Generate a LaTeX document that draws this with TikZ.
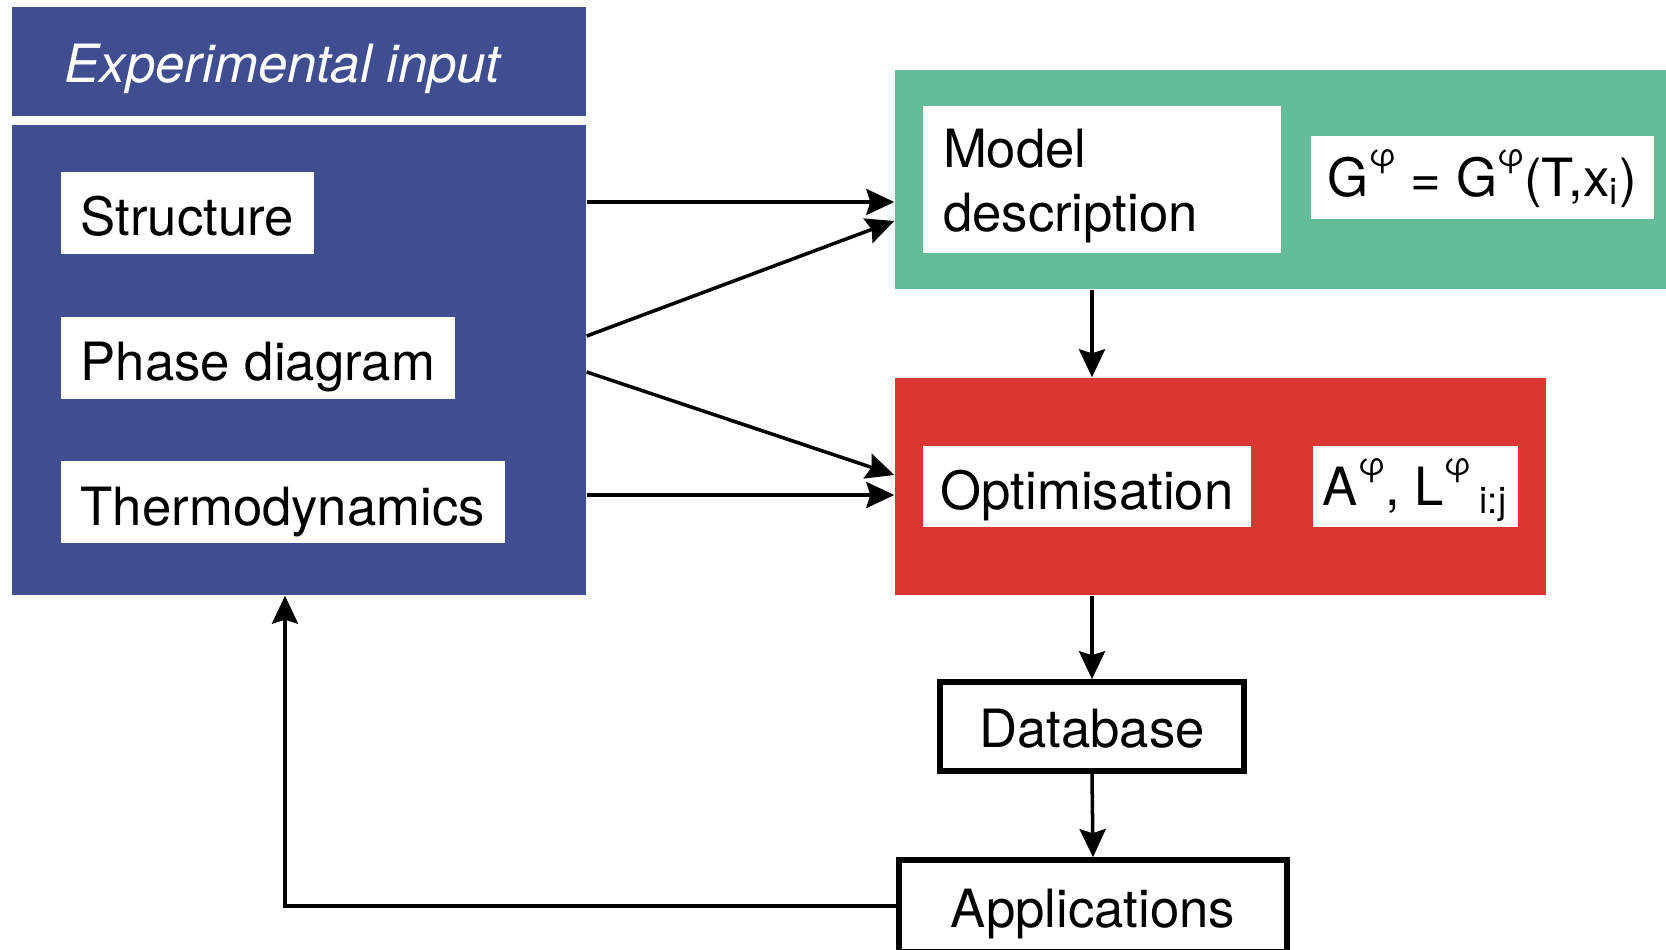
\documentclass[tikz,border=0pt]{standalone}
\usepackage{fontspec}
\setmainfont{TeX Gyre Heros}
\usepackage{xcolor}
\usepackage{tikz}
\usetikzlibrary{arrows.meta}

\definecolor{inputblue}{RGB}{64,78,145}
\definecolor{modelgreen}{RGB}{100,189,153}
\definecolor{optred}{RGB}{218,54,50}

\newcommand{\supphi}{\raisebox{8.5pt}{\fontsize{9}{10}\selectfont φ}}

\begin{document}
\begin{tikzpicture}[
	font=\fontsize{15}{18}\selectfont,
	panel/.style={rectangle, inner sep=0pt},
	tag/.style={rectangle, fill=white, inner xsep=0.2cm, inner ysep=0pt, minimum height=0.82cm, text height=0.46cm, text depth=0cm},
	stage/.style={rectangle, draw=black, line width=1.6pt, fill=white, inner sep=0pt, text height=0.42cm, text depth=0cm},
	arr/.style={-{Stealth[length=0.28cm, width=0.26cm, inset=0.04cm]}, line width=1pt}
]

\useasboundingbox (0,0) rectangle (16.66,9.49);

% experimental input
\node[panel, fill=inputblue, minimum width=5.74cm, minimum height=1.09cm] (title) at (2.99,8.875) {};

\node[anchor=west, inner sep=0pt, text=white, font=\fontsize{15}{18}\selectfont\itshape] (titletext) at (0.64,8.80) {Experimental input};

\node[panel, fill=inputblue, minimum width=5.74cm, minimum height=4.70cm] (input) at (2.99,5.89) {};

\node[tag, anchor=west] (structure) at (0.60,7.36) {Structure};

\node[tag, anchor=west] (phase) at (0.60,5.915) {Phase diagram};

\node[tag, anchor=west] (thermo) at (0.60,4.47) {Thermodynamics};

% model description
\node[panel, fill=modelgreen, minimum width=7.71cm, minimum height=2.19cm] (model) at (12.805,7.695) {};

\node[tag, text width=3.18cm, align=left, minimum height=1.47cm, text height=0.45cm, text depth=0.68cm] (modeltext) at (11.02,7.695) {Model\\description};

\node[tag, inner xsep=0.1cm, minimum width=3.43cm, minimum height=0.83cm, text height=0.37cm] (gibbs) at (14.825,7.715) {G\supphi{} = G\supphi(T,x\textsubscript{i})};

% optimisation
\node[panel, fill=optred, minimum width=6.51cm, minimum height=2.17cm] (opt) at (12.205,4.625) {};

\node[tag, anchor=west, inner xsep=0.18cm, minimum height=0.81cm] (opttext) at (9.22,4.625) {Optimisation};

\node[tag, inner xsep=0.1cm, minimum width=2.03cm, minimum height=0.81cm, text height=0.37cm] (params) at (14.155,4.625) {A\supphi, L\supphi\,\textsubscript{i:j}};

% database and applications
\node[stage, minimum width=3.04cm, minimum height=0.89cm] (database) at (10.92,2.225) {Database};

\node[stage, minimum width=3.88cm, minimum height=0.92cm] (applications) at (10.93,0.43) {Applications};

% connectors
\draw[arr] (input.east |- 0,7.47) -- (model.west |- 0,7.47);
\draw[arr] (input.east |- 0,6.13) -- (model.west |- 0,7.28);
\draw[arr] (input.east |- 0,5.77) -- (opt.west |- 0,4.74);
\draw[arr] (input.east |- 0,4.54) -- (opt.west |- 0,4.54);

\draw[arr] (model.south -| database) -- (opt.north -| database);
\draw[arr] (opt.south -| database) -- (database.north);
\draw[arr] (database.south) -- (applications.north);

\draw[arr] (applications.west) -| ([xshift=-0.14cm]input.south);

\end{tikzpicture}
\end{document}
